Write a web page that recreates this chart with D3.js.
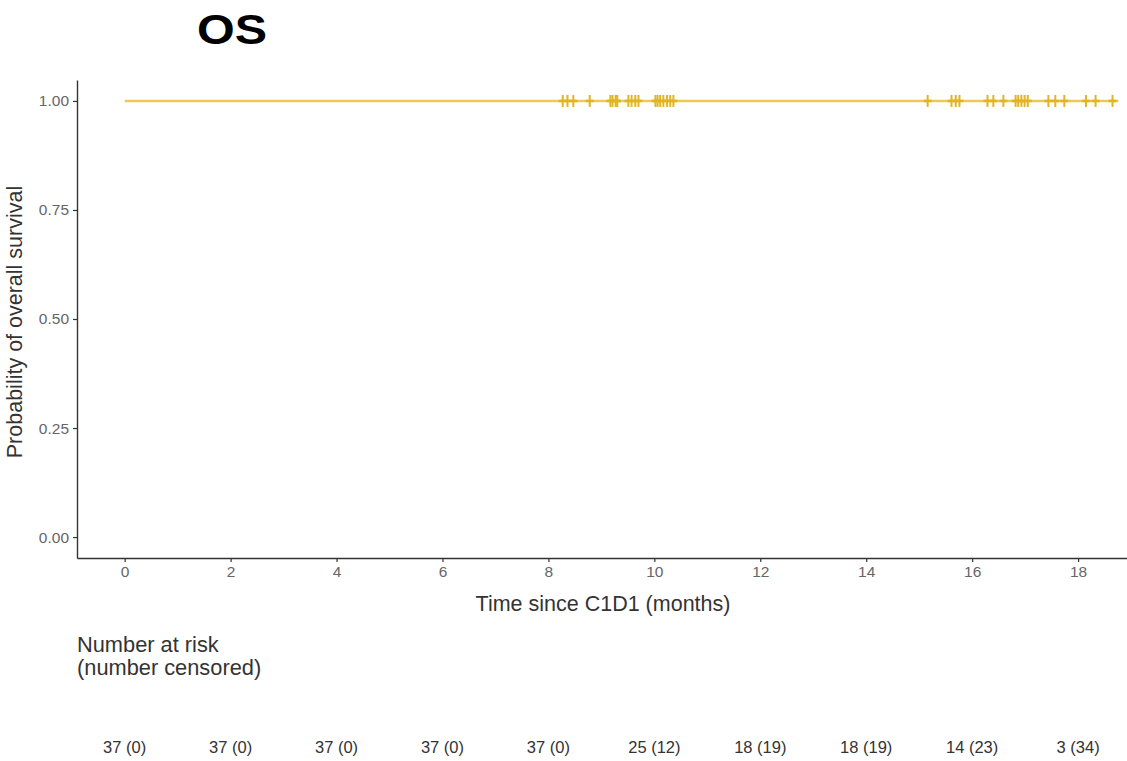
<!DOCTYPE html>
<html><head><meta charset="utf-8">
<script src="https://cdn.jsdelivr.net/npm/d3@7"></script>
<style>
body{margin:0;background:#fff;}
text{font-family:"Liberation Sans",Arial,sans-serif;}
</style></head>
<body><svg id="c" width="1127" height="761"></svg>
<script>
const title = "OS";
const survTimes = [0, 18.76];
const survProb = [1.0, 1.0];
const censorTimes = [8.27, 8.36, 8.47, 8.78, 9.17, 9.21, 9.27, 9.30, 9.51, 9.57, 9.64, 9.70,
  10.02, 10.06, 10.11, 10.17, 10.24, 10.30, 10.36,
  15.16, 15.61, 15.69, 15.76,
  16.29, 16.40, 16.59, 16.82, 16.87, 16.93, 16.99, 17.05, 17.44, 17.57, 17.74,
  18.15, 18.33, 18.65];
const xTicks = [0, 2, 4, 6, 8, 10, 12, 14, 16, 18];
const yTicks = [0, 0.25, 0.5, 0.75, 1.0];
const atRisk = [37, 37, 37, 37, 37, 25, 18, 18, 14, 3];
const censored = [0, 0, 0, 0, 0, 12, 19, 19, 23, 34];

const svg = d3.select("#c");
const x = d3.scaleLinear().domain([-0.9, 18.98]).range([77, 1130]);
const y = d3.scaleLinear().domain([-0.048, 1.048]).range([558, 80]);

svg.append("text").attr("x", 197).attr("y", 44)
  .attr("font-size", 42).attr("font-weight", "bold").attr("fill", "#000")
  .attr("textLength", 70).attr("lengthAdjust", "spacingAndGlyphs").text(title);

// axes
const gx = svg.append("g").attr("transform", "translate(0,558)")
  .call(d3.axisBottom(x).tickValues(xTicks).tickSize(4).tickSizeOuter(0).tickPadding(4).tickFormat(d3.format("d")));
const gy = svg.append("g").attr("transform", "translate(77,0)")
  .call(d3.axisLeft(y).tickValues(yTicks).tickSize(4).tickSizeOuter(0).tickPadding(4).tickFormat(d3.format(".2f")));
[gx, gy].forEach(g => {
  g.select(".domain").attr("stroke", "#333").attr("stroke-width", 1.4);
  g.selectAll(".tick line").attr("stroke", "#333").attr("stroke-width", 1.2);
  g.selectAll(".tick text").attr("fill", "#666").attr("font-size", 15.5)
    .style("font-family", "Liberation Sans, Arial, sans-serif");
});

svg.append("text").attr("transform", "translate(22,322) rotate(-90)").attr("text-anchor", "middle")
  .attr("font-size", 21.5).attr("fill", "#333").text("Probability of overall survival");
svg.append("text").attr("x", 603).attr("y", 611).attr("text-anchor", "middle")
  .attr("font-size", 21.5).attr("fill", "#333").text("Time since C1D1 (months)");

// survival line
const line = d3.line().curve(d3.curveStepAfter).x((d, i) => x(survTimes[i])).y((d, i) => y(survProb[i]));
svg.append("path").datum(survTimes).attr("d", line).attr("fill", "none")
  .attr("stroke", "#EBCB55").attr("stroke-width", 2.5);

// censor marks
svg.append("g").selectAll("line").data(censorTimes).join("line")
  .attr("x1", d => x(d)).attr("x2", d => x(d))
  .attr("y1", y(1) - 6).attr("y2", y(1) + 6)
  .attr("stroke", "#E0B424").attr("stroke-width", 2);
svg.append("g").selectAll("line").data(censorTimes).join("line")
  .attr("x1", d => x(d) - 4).attr("x2", d => x(d) + 4)
  .attr("y1", y(1)).attr("y2", y(1))
  .attr("stroke", "#E0B424").attr("stroke-width", 2.5);

// risk table
svg.append("text").attr("x", 77).attr("y", 652).attr("font-size", 21.8).attr("fill", "#333").text("Number at risk");
svg.append("text").attr("x", 77).attr("y", 675).attr("font-size", 21.8).attr("fill", "#333").text("(number censored)");
svg.append("g").selectAll("text").data(xTicks).join("text")
  .attr("x", d => x(d)).attr("y", 753).attr("text-anchor", "middle")
  .attr("font-size", 16.5).attr("fill", "#333")
  .text((d, i) => `${atRisk[i]} (${censored[i]})`);
</script></body></html>
